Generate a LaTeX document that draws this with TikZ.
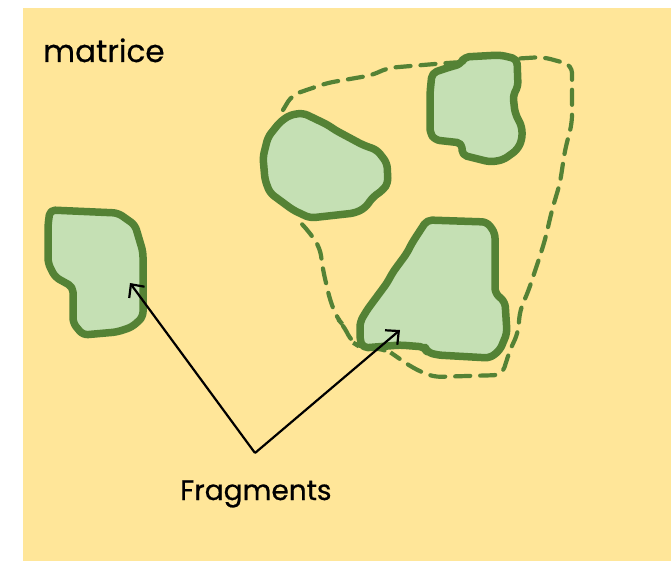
\documentclass[tikz,border=0pt]{standalone}
\usepackage{fontspec}
\setmainfont{Poppins}
\newfontfamily\lblfont{Poppins}[BoldFont={Poppins}, BoldFeatures={FakeBold=0.6}]
\usetikzlibrary{arrows.meta}
\definecolor{bgyellow}{HTML}{FFE699}
\definecolor{fragfill}{HTML}{C5E0B4}
\definecolor{fragline}{HTML}{548235}
\tikzset{
  frag/.style={draw=fragline, fill=fragfill, line width=7.5pt, rounded corners=5pt, line join=round},
  zone/.style={draw=fragline, line width=4.2pt, dash pattern=on 15pt off 10pt, rounded corners=8pt, line cap=round},
  pointer/.style={draw=black, line width=2.2pt, -{Straight Barb[length=10pt,width=19pt,line width=2.2pt]}},
  lbl/.style={text=black, inner sep=0pt}
}
\begin{document}
\begin{tikzpicture}[x=1pt,y=-1pt]
\useasboundingbox (0,0) rectangle (671,561);
\fill[bgyellow] (23,8) rectangle (671,561);
% dashed zone
\draw[zone] (283,110) -- (292,95) -- (327,83) -- (373,75) -- (387,68) -- (447,63) -- (543,57) -- (572,65) -- (572,123) -- (565,150) -- (560,183) -- (552,210) -- (545,240) -- (538,262) -- (528,292) -- (520,310) -- (518,333) -- (510,350) -- (502,375) -- (433,377) -- (413,368) -- (397,357) -- (387,350) -- (360,347) -- (352,342) -- (343,325) -- (337,318) -- (330,300) -- (323,270) -- (320,248) -- (310,233) -- (300,222);
% fragments
\draw[frag] (50,210) -- (118,213) -- (135,225) -- (143,252) -- (143,317) -- (132,327) -- (117,332) -- (83,335) -- (73,323) -- (73,287) -- (55,277) -- (48,263) -- (48,225) -- cycle;
\draw[frag] (303,113) -- (328,125) -- (335,130) -- (363,145) -- (377,150) -- (387,163) -- (388,183) -- (383,190) -- (373,197) -- (365,208) -- (355,213) -- (310,218) -- (293,210) -- (270,193) -- (265,180) -- (263,157) -- (268,137) -- (280,122) -- (290,115) -- cycle;
\draw[frag] (432,73) -- (450,67) -- (461,64) -- (464,57) -- (500,55) -- (517,59) -- (518,87) -- (513,95) -- (515,113) -- (522,127) -- (522,140) -- (517,150) -- (503,160) -- (490,162) -- (462,155) -- (462,143) -- (435,140) -- (430,133) -- (430,93) -- cycle;
\draw[frag] (427,220) -- (487,222) -- (495,233) -- (495,293) -- (505,302) -- (507,333) -- (500,350) -- (490,358) -- (437,355) -- (427,352) -- (425,347) -- (400,345) -- (363,348) -- (360,340) -- (360,322) -- (367,310) -- (387,283) -- (393,272) -- (407,253) -- (412,243) -- cycle;
% labels
\node[lbl, anchor=base west, font=\lblfont\bfseries\fontsize{31}{36}\selectfont] (mat) at (43,62) {matrice};
\node[lbl, anchor=base west, font=\lblfont\bfseries\fontsize{28}{34}\selectfont] (frg) at (180,500) {Fragments};
\coordinate (v) at (255,453);
\coordinate (t1) at (130,283);
\coordinate (t2) at (400,330);
\draw[pointer] (v) -- (t1);
\draw[pointer] (v) -- (t2);
\end{tikzpicture}
\end{document}
